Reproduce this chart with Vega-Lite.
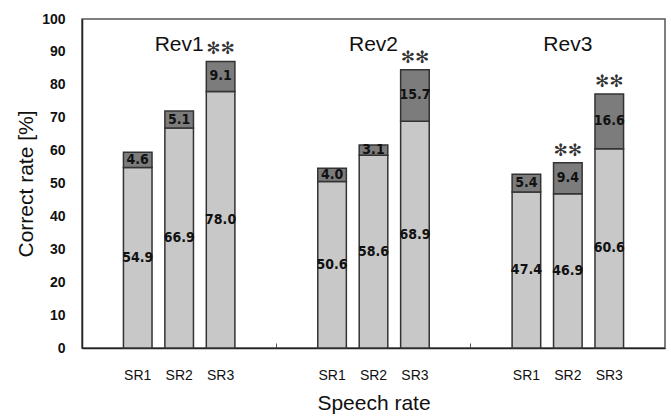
{
  "$schema": "https://vega.github.io/schema/vega-lite/v6.json",
  "width": 583,
  "height": 329,
  "autosize": {"type": "none"},
  "padding": {"left": 82, "top": 19, "right": 6, "bottom": 68},
  "background": "white",
  "config": {
    "font": "Liberation Sans",
    "view": {"stroke": "#555555", "strokeWidth": 1.5},
    "axis": {"grid": false},
    "axisY": {
      "labelOverlap": false,
      "tickSize": 0,
      "labelPadding": 17,
      "labelFontSize": 14,
      "labelFontWeight": "bold",
      "labelColor": "#111111",
      "domainColor": "#222222",
      "domainWidth": 1.5,
      "titleFontSize": 21,
      "titleFontWeight": "normal",
      "titleColor": "#111111",
      "titlePadding": 5
    }
  },
  "datasets": {
    "bars": [
      {"Rev": "Rev1", "SR": "SR1", "part": "lower", "value": 54.9, "sig": ""},
      {"Rev": "Rev1", "SR": "SR1", "part": "upper", "value": 4.6, "sig": ""},
      {"Rev": "Rev1", "SR": "SR2", "part": "lower", "value": 66.9, "sig": ""},
      {"Rev": "Rev1", "SR": "SR2", "part": "upper", "value": 5.1, "sig": ""},
      {"Rev": "Rev1", "SR": "SR3", "part": "lower", "value": 78.0, "sig": "✻✻"},
      {"Rev": "Rev1", "SR": "SR3", "part": "upper", "value": 9.1, "sig": "✻✻"},
      {"Rev": "Rev2", "SR": "SR1", "part": "lower", "value": 50.6, "sig": ""},
      {"Rev": "Rev2", "SR": "SR1", "part": "upper", "value": 4.0, "sig": ""},
      {"Rev": "Rev2", "SR": "SR2", "part": "lower", "value": 58.6, "sig": ""},
      {"Rev": "Rev2", "SR": "SR2", "part": "upper", "value": 3.1, "sig": ""},
      {"Rev": "Rev2", "SR": "SR3", "part": "lower", "value": 68.9, "sig": "✻✻"},
      {"Rev": "Rev2", "SR": "SR3", "part": "upper", "value": 15.7, "sig": "✻✻"},
      {"Rev": "Rev3", "SR": "SR1", "part": "lower", "value": 47.4, "sig": ""},
      {"Rev": "Rev3", "SR": "SR1", "part": "upper", "value": 5.4, "sig": ""},
      {"Rev": "Rev3", "SR": "SR2", "part": "lower", "value": 46.9, "sig": "✻✻"},
      {"Rev": "Rev3", "SR": "SR2", "part": "upper", "value": 9.4, "sig": "✻✻"},
      {"Rev": "Rev3", "SR": "SR3", "part": "lower", "value": 60.6, "sig": "✻✻"},
      {"Rev": "Rev3", "SR": "SR3", "part": "upper", "value": 16.6, "sig": "✻✻"}
    ],
    "revs": [
      {"Rev": "Rev1"},
      {"Rev": "Rev2"},
      {"Rev": "Rev3"}
    ]
  },
  "data": {"name": "bars"},
  "encoding": {
    "x": {
      "field": "Rev",
      "type": "nominal",
      "scale": {"type": "band", "paddingInner": 0, "paddingOuter": 0, "domain": ["Rev1", "Rev2", "Rev3"]},
      "axis": {
        "labels": false,
        "bandPosition": 0,
        "tickSize": -5,
        "tickColor": "#555555",
        "domainColor": "#222222",
        "domainWidth": 1.5,
        "title": "Speech rate",
        "titleFont": "Liberation Sans",
        "titleFontSize": 21,
        "titleFontWeight": "normal",
        "titleColor": "#111111",
        "titlePadding": 44
      }
    }
  },
  "layer": [
    {
      "mark": {"type": "bar", "stroke": "#333333", "strokeWidth": 1.5},
      "encoding": {
        "xOffset": {
          "field": "SR",
          "type": "nominal",
          "scale": {"type": "band", "paddingInner": 0.31, "paddingOuter": 1.145, "domain": ["SR1", "SR2", "SR3"]}
        },
        "y": {
          "field": "value",
          "type": "quantitative",
          "stack": "zero",
          "scale": {"domain": [0, 100], "nice": false},
          "axis": {"values": [0, 10, 20, 30, 40, 50, 60, 70, 80, 90, 100], "title": "Correct rate [%]"}
        },
        "color": {
          "field": "part",
          "type": "nominal",
          "scale": {"domain": ["lower", "upper"], "range": ["#c8c8c8", "#7c7c7c"]},
          "legend": null
        },
        "order": {"field": "part", "sort": "ascending"}
      }
    },
    {
      "mark": {"type": "text", "font": "DejaVu Sans Condensed", "fontWeight": "bold", "fontSize": 14, "color": "#111111", "baseline": "middle"},
      "encoding": {
        "xOffset": {"field": "SR", "type": "nominal"},
        "y": {"field": "value", "type": "quantitative", "stack": "zero", "bandPosition": 0.5,
              "axis": {"values": [0, 10, 20, 30, 40, 50, 60, 70, 80, 90, 100], "title": "Correct rate [%]"}},
        "text": {"field": "value", "type": "quantitative", "format": ".1f"},
        "order": {"field": "part", "sort": "ascending"}
      }
    },
    {
      "mark": {"type": "text", "font": "DejaVu Sans", "fontSize": 17, "color": "#333333", "baseline": "middle", "dy": -12},
      "encoding": {
        "xOffset": {"field": "SR", "type": "nominal"},
        "y": {"aggregate": "sum", "field": "value", "type": "quantitative",
              "axis": {"values": [0, 10, 20, 30, 40, 50, 60, 70, 80, 90, 100], "title": "Correct rate [%]"}},
        "text": {"field": "sig", "type": "nominal"}
      }
    },
    {
      "transform": [{"filter": "datum.part == 'lower'"}],
      "mark": {"type": "text", "fontSize": 14, "color": "#111111", "baseline": "middle", "dy": 28},
      "encoding": {
        "xOffset": {"field": "SR", "type": "nominal"},
        "y": {"datum": 0, "type": "quantitative",
              "axis": {"values": [0, 10, 20, 30, 40, 50, 60, 70, 80, 90, 100], "title": "Correct rate [%]"}},
        "text": {"field": "SR", "type": "nominal"}
      }
    },
    {
      "data": {"name": "revs"},
      "mark": {"type": "text", "fontSize": 21, "color": "#111111", "baseline": "middle"},
      "encoding": {
        "y": {"datum": 92, "type": "quantitative",
              "axis": {"values": [0, 10, 20, 30, 40, 50, 60, 70, 80, 90, 100], "title": "Correct rate [%]"}},
        "text": {"field": "Rev", "type": "nominal"}
      }
    }
  ]
}
